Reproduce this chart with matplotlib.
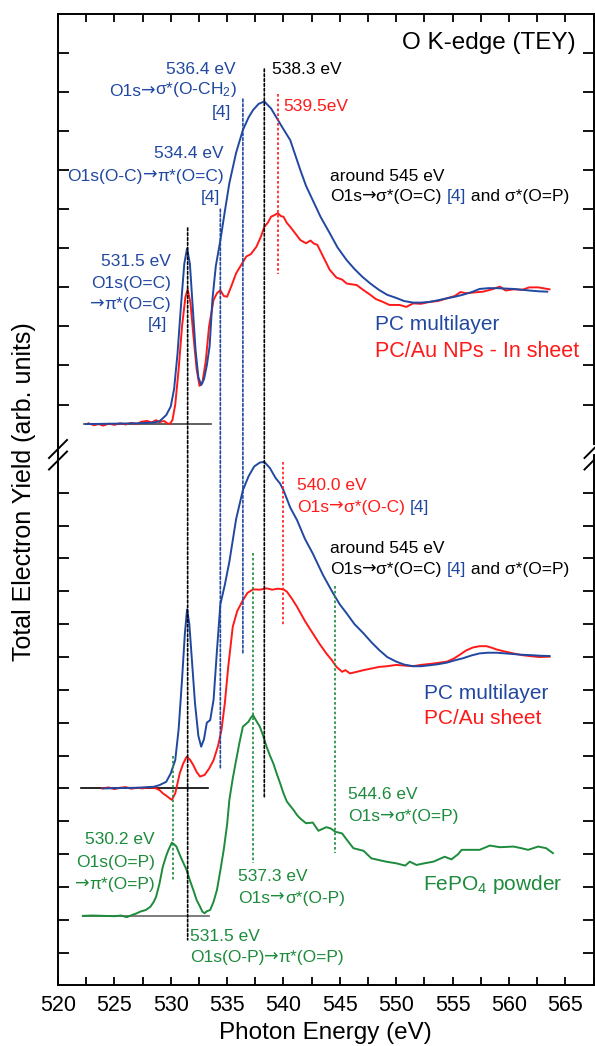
import matplotlib
matplotlib.use('Agg')
import matplotlib.pyplot as plt
from matplotlib.patches import ConnectionPatch
from matplotlib.lines import Line2D
from matplotlib.ticker import MultipleLocator

plt.rcParams['font.family'] = ['Liberation Sans', 'DejaVu Sans']
plt.rcParams['mathtext.fontset'] = 'custom'
plt.rcParams['mathtext.rm'] = 'Liberation Sans'
plt.rcParams['mathtext.it'] = 'Liberation Sans:italic'

BLUE = '#2148a0'
RED = '#ff1a1a'
GREEN = '#1d8b3c'

# ---- upper panel: PC multilayer / PC-Au NPs in sheet ----
top_pc_e = [522.5, 525.0, 527.0, 528.5, 529.0, 529.6, 530.0, 530.3, 530.6, 530.9, 531.2, 531.45,
            531.7, 531.95, 532.2, 532.45, 532.7, 532.95, 533.2, 533.45, 533.7, 534.0, 534.4, 534.8,
            535.2, 535.8, 536.4, 536.9, 537.3, 537.8, 538.3, 538.9, 539.5, 540.0, 540.6, 541.5,
            542.0, 542.6, 543.3, 544.1, 544.8, 545.6, 546.3, 547.0, 547.7, 548.5, 549.2, 550.0,
            550.7, 551.5, 552.2, 553.0, 553.7, 554.5, 555.2, 555.9, 556.7, 557.4, 558.2, 558.9,
            559.7, 560.4, 561.1, 561.8, 562.6, 563.4]
top_pc_y = [0.0, 0.01, 0.02, 0.04, 0.07, 0.23, 0.45, 0.9, 1.8, 3.0, 4.1, 4.5,
            4.1, 3.0, 1.9, 1.2, 1.0, 1.15, 1.5, 2.0, 3.2, 4.05, 4.7, 5.45,
            6.17, 6.95, 7.53, 7.85, 8.04, 8.2, 8.26, 8.08, 7.79, 7.55, 7.27, 6.5,
            6.1, 5.73, 5.3, 4.89, 4.52, 4.2, 3.97, 3.77, 3.6, 3.43, 3.31, 3.23,
            3.15, 3.11, 3.11, 3.13, 3.17, 3.22, 3.26, 3.31, 3.38, 3.46, 3.48, 3.48,
            3.47, 3.46, 3.44, 3.42, 3.40, 3.39]

top_np_e = [522.7, 523.2, 523.6, 524.0, 524.5, 525.0, 525.5, 526.0, 526.5, 527.0, 527.4, 527.9,
            528.3, 528.7, 529.0, 529.4, 529.7, 529.9, 530.15, 530.4, 530.7, 531.0, 531.3, 531.5,
            531.75, 532.0, 532.3, 532.55, 532.8, 533.1, 533.4, 533.8, 534.1, 534.4, 534.7, 535.0,
            535.4, 535.8, 536.2, 536.7, 537.1, 537.6, 538.0, 538.3, 538.6, 538.9, 539.2, 539.5,
            539.8, 540.0, 540.3, 540.6, 541.0, 541.5, 542.0, 542.4, 542.7, 543.0, 543.5, 544.1,
            544.7, 545.2, 545.6, 546.0, 546.5, 547.0, 547.7, 548.2, 548.8, 549.4, 550.3, 550.9,
            551.5, 552.2, 553.0, 553.7, 554.5, 555.2, 555.7, 556.2, 556.9, 557.7, 558.5, 559.2,
            559.7, 560.4, 561.2, 561.8, 562.6, 563.6]
top_np_y = [0.02, -0.03, 0.0, -0.04, 0.01, -0.02, 0.02, -0.01, 0.03, 0.0, 0.06, 0.08,
            0.04, 0.1, 0.05, 0.08, 0.02, 0.0, 0.1, 0.5, 1.4, 2.5, 3.25, 3.45,
            3.1, 2.3, 1.4, 0.98, 1.05, 1.6, 2.5, 3.18, 3.35, 3.43, 3.28, 3.26,
            3.55, 3.86, 4.05, 4.29, 4.35, 4.54, 4.8, 5.05, 5.15, 5.31, 5.35, 5.40,
            5.32, 5.31, 5.15, 5.05, 4.9, 4.71, 4.63, 4.7, 4.62, 4.59, 4.3, 3.95,
            3.75, 3.7, 3.6, 3.58, 3.56, 3.45, 3.31, 3.2, 3.13, 3.05, 3.05, 3.0,
            3.09, 3.08, 3.13, 3.15, 3.22, 3.28, 3.38, 3.35, 3.37, 3.39, 3.45, 3.52,
            3.42, 3.45, 3.44, 3.5, 3.50, 3.45]

# ---- lower panel: PC multilayer / PC-Au sheet / FePO4 ----
bot_pc_e = [524.0, 527.0, 528.5, 529.0, 529.6, 530.0, 530.4, 530.7, 531.0, 531.25, 531.45, 531.65,
            531.9, 532.15, 532.45, 532.7, 532.95, 533.2, 533.5, 533.8, 534.1, 534.4, 534.8, 535.2,
            535.8, 536.4, 536.9, 537.4, 537.9, 538.3, 538.8, 539.3, 539.7, 540.0, 540.6, 541.2,
            541.9, 542.6, 543.5, 544.4, 545.0, 545.6, 546.3, 547.1, 547.8, 548.5, 549.2, 550.0,
            550.7, 551.5, 552.2, 553.0, 553.7, 554.5, 555.2, 555.9, 556.7, 557.4, 558.1, 558.9,
            559.7, 560.4, 561.1, 561.8, 562.7, 563.6]
bot_pc_y = [5.0, 5.02, 5.05, 5.1, 5.2, 5.46, 5.86, 6.8, 8.3, 9.7, 10.45, 10.0,
            8.8, 7.6, 6.6, 6.27, 6.5, 7.0, 7.08, 7.7, 9.2, 10.6, 11.2, 11.9,
            13.2, 14.08, 14.5, 14.8, 14.92, 14.94, 14.75, 14.45, 14.28, 14.08, 13.55, 13.17,
            12.6, 12.15, 11.5, 10.94, 10.6, 10.33, 10.0, 9.72, 9.45, 9.21, 9.0, 8.86,
            8.77, 8.72, 8.72, 8.75, 8.78, 8.83, 8.9, 8.96, 9.05, 9.11, 9.13, 9.13,
            9.11, 9.09, 9.07, 9.06, 9.04, 9.03]

bot_au_e = [523.9, 524.5, 525.0, 525.5, 526.0, 526.5, 527.0, 527.5, 528.0, 528.4, 528.7, 529.0,
            529.3, 529.6, 529.9, 530.1, 530.4, 530.8, 531.1, 531.4, 531.7, 532.0, 532.3, 532.6,
            533.0, 533.4, 533.8, 534.2, 534.5, 534.8, 535.1, 535.5, 535.9, 536.4, 536.8, 537.3,
            537.9, 538.5, 539.0, 539.5, 540.0, 540.3, 540.7, 541.2, 541.9, 542.6, 543.2, 543.8,
            544.3, 544.7, 545.2, 545.5, 545.9, 546.5, 547.1, 547.8, 548.5, 549.2, 550.0, 550.7,
            551.5, 552.2, 553.0, 553.7, 554.5, 555.1, 555.6, 556.2, 556.8, 557.4, 558.0, 558.5,
            558.9, 559.6, 560.4, 561.1, 561.8, 562.7, 563.6]
bot_au_y = [5.0, 5.03, 4.98, 5.02, 5.04, 4.99, 5.02, 5.0, 5.03, 5.02, 5.0, 4.95,
            4.85, 4.78, 4.7, 4.65, 4.85, 5.46, 5.75, 5.96, 5.88, 5.71, 5.5, 5.36,
            5.41, 5.6, 5.86, 6.3, 6.78, 7.6, 8.7, 9.92, 10.4, 10.73, 10.95, 11.06,
            11.05, 11.09, 11.05, 11.08, 11.06, 10.99, 10.8, 10.53, 10.1, 9.72, 9.4, 9.11,
            8.9, 8.70, 8.55, 8.6, 8.50, 8.55, 8.60, 8.65, 8.70, 8.72, 8.76, 8.74,
            8.72, 8.76, 8.79, 8.82, 8.86, 8.95, 9.06, 9.2, 9.29, 9.33, 9.33, 9.28,
            9.23, 9.17, 9.11, 9.06, 9.03, 9.0, 9.01]

fepo4_e = [522.2, 523.0, 524.0, 525.0, 525.6, 526.1, 526.6, 527.0, 527.3, 527.8, 528.2, 528.5,
           528.7, 529.0, 529.3, 529.6, 529.8, 530.1, 530.3, 530.5, 530.9, 531.4, 531.7, 532.0,
           532.3, 532.6, 532.8, 533.0, 533.2, 533.5, 533.8, 534.1, 534.4, 534.7, 535.0, 535.2,
           535.5, 535.8, 536.1, 536.4, 536.9, 537.1, 537.3, 537.6, 537.9, 538.2, 538.5, 538.8,
           539.1, 539.4, 539.7, 540.0, 540.3, 540.9, 541.2, 541.5, 542.0, 542.6, 543.1, 543.8,
           544.2, 544.6, 545.2, 545.7, 546.2, 547.1, 547.8, 549.1, 550.0, 550.8, 551.2, 551.8,
           552.5, 553.3, 554.3, 554.9, 555.5, 555.8, 556.6, 557.4, 558.3, 559.2, 560.4, 561.1,
           561.7, 562.6, 563.3, 563.9]
fepo4_y = [1.12, 1.13, 1.12, 1.11, 1.13, 1.08, 1.15, 1.2, 1.25, 1.3, 1.40, 1.55,
           1.70, 2.1, 2.62, 2.95, 3.13, 3.35, 3.3, 3.23, 2.9, 2.52, 2.2, 1.91,
           1.6, 1.40, 1.25, 1.2, 1.26, 1.30, 1.55, 1.91, 2.5, 3.13, 3.9, 4.65,
           5.3, 5.86, 6.4, 6.88, 7.03, 7.15, 7.23, 7.05, 6.88, 6.6, 6.27, 6.0,
           5.76, 5.45, 5.16, 4.85, 4.6, 4.34, 4.19, 4.08, 3.94, 3.96, 3.71, 3.82,
           3.78, 3.68, 3.63, 3.4, 3.18, 3.10, 2.87, 2.77, 2.72, 2.65, 2.77, 2.67,
           2.72, 2.77, 2.92, 2.84, 3.0, 3.13, 3.13, 3.13, 3.26, 3.21, 3.23, 3.18,
           3.13, 3.23, 3.18, 3.03]

# pre-edge reference lines: (E start, E end, level)
top_base = (522.3, 533.6, 0.0)
pc_base = (522.0, 533.3, 5.0)
fepo4_base = (522.2, 533.4, 1.12)

# dotted markers spanning both panels: (energy, upper y top, lower y bottom, colour)
cross_marks = [(531.5, 5.02, 0.39, 'black'), (538.3, 9.09, 4.71, 'black'),
               (534.4, 5.5, 5.62, BLUE), (536.4, 8.32, 9.12, BLUE)]
top_marks = [(539.5, 8.45, 3.84, RED)]
bot_marks = [(540.0, 14.94, 9.97, RED), (537.3, 12.17, 2.72, GREEN),
             (544.6, 11.17, 3.04, GREEN), (530.2, 5.99, 2.21, GREEN)]

fig = plt.figure(figsize=(5.95, 10.46), dpi=100)
ax1 = fig.add_axes([0.09748, 0.57591, 0.9000, 0.41071])
ax2 = fig.add_axes([0.09748, 0.05784, 0.9000, 0.50717])

ax1.set_xlim(520, 567.5)
ax2.set_xlim(520, 567.5)
ax1.set_ylim(-0.5, 10.5)
ax2.set_ylim(-1.0, 15.15)

lw = 1.4
ax1.plot(top_base[:2], [top_base[2]] * 2, color='#444444', lw=1.2)
ax2.plot(pc_base[:2], [pc_base[2]] * 2, color='black', lw=1.2)
ax2.plot(fepo4_base[:2], [fepo4_base[2]] * 2, color='#666666', lw=1.2)

ax1.plot(top_np_e, top_np_y, color=RED, lw=lw)
ax1.plot(top_pc_e, top_pc_y, color=BLUE, lw=lw)
ax2.plot(bot_au_e, bot_au_y, color=RED, lw=lw)
ax2.plot(bot_pc_e, bot_pc_y, color=BLUE, lw=lw)
ax2.plot(fepo4_e, fepo4_y, color=GREEN, lw=lw)

dot = (0, (1.6, 1.3))
for e, y0, y1, c in top_marks:
    ax1.plot([e, e], [y0, y1], color=c, lw=1.2, ls=dot)
for e, y0, y1, c in bot_marks:
    ax2.plot([e, e], [y0, y1], color=c, lw=1.2, ls=dot)
for e, y0, y1, c in cross_marks:
    con = ConnectionPatch(xyA=(e, y0), coordsA=ax1.transData, xyB=(e, y1), coordsB=ax2.transData,
                          color=c, lw=1.2, ls=dot)
    fig.add_artist(con)

for ax in (ax1, ax2):
    ax.xaxis.set_major_locator(MultipleLocator(5))
    ax.xaxis.set_minor_locator(MultipleLocator(2.5))
    ax.tick_params(axis='x', which='both', direction='in', length=6, width=1.3, labelsize=15.5, pad=7)
    ax.tick_params(axis='y', direction='in', length=8, width=1.3, left=True, right=True, labelleft=False)
    for s in ax.spines.values():
        s.set_linewidth(1.4)

ax1.set_yticks([0.5 + k for k in range(10)])
ax2.set_yticks(list(range(0, 15)))
ax1.spines['bottom'].set_visible(False)
ax1.tick_params(axis='x', which='both', bottom=False, top=True, labelbottom=False)
ax2.spines['top'].set_visible(False)
ax2.tick_params(axis='x', which='both', bottom=True, top=False)
ax2.set_xlabel('Photon Energy (eV)', fontsize=17.5, labelpad=4)
fig.text(24 / 595, 0.530, 'Total Electron Yield (arb. units)', rotation=90,
         ha='center', va='center', fontsize=18)

# axis break marks
fig.add_artist(Line2D([58 / 595] * 2, [1 - 443.6 / 1046, 1 - 455 / 1046], color='black', lw=1.4))
for xs in (58, 593.5):
    for yc in (449.0, 460.5):
        fig.add_artist(Line2D([(xs - 9) / 595, (xs + 9) / 595],
                              [1 - (yc + 9) / 1046, 1 - (yc - 9) / 1046], color='black', lw=1.4))

fs = 12.5


def split_arrows(parts):
    out = []
    for s, c in parts:
        bits = s.split('→')
        for i, b in enumerate(bits):
            if i > 0:
                out.append(('→', c, 'DejaVu Sans'))
            if b:
                out.append((b, c, 'Liberation Sans'))
    return out


def rich(ax, x, y, parts, ha='left', size=fs):
    # one text line built from coloured pieces; arrows drawn in DejaVu Sans
    pcs = split_arrows(parts)
    if ha == 'left':
        s, c, f = pcs[0]
        t = ax.text(x, y, s, color=c, family=f, ha='left', va='center', fontsize=size)
        for s, c, f in pcs[1:]:
            t = ax.annotate(s, xy=(1, 0), xycoords=t, ha='left', va='bottom',
                            color=c, family=f, fontsize=size)
    else:
        s, c, f = pcs[-1]
        t = ax.text(x, y, s, color=c, family=f, ha='right', va='center', fontsize=size)
        for s, c, f in reversed(pcs[:-1]):
            t = ax.annotate(s, xy=(0, 0), xycoords=t, ha='right', va='bottom',
                            color=c, family=f, fontsize=size)
    return t


def put(ax, x, y, s, c, ha='left', size=fs):
    return rich(ax, x, y, [(s, c)], ha=ha, size=size)


# upper panel texts
ax1.text(565.9, 9.76, 'O K-edge (TEY)', ha='right', va='center', fontsize=17.5)
put(ax1, 535.8, 9.09, '536.4 eV', BLUE, 'right')
put(ax1, 535.9, 8.56, r'O1s→σ*(O-CH$_2$)', BLUE, 'right')
put(ax1, 535.4, 7.99, '[4]', BLUE, 'right')
put(ax1, 534.7, 6.93, '534.4 eV', BLUE, 'right')
put(ax1, 534.7, 6.35, 'O1s(O-C)→π*(O=C)', BLUE, 'right')
put(ax1, 534.4, 5.79, '[4]', BLUE, 'right')
put(ax1, 530.0, 4.15, '531.5 eV', BLUE, 'right')
put(ax1, 530.0, 3.61, 'O1s(O=C)', BLUE, 'right')
put(ax1, 530.0, 3.05, '→π*(O=C)', BLUE, 'right')
put(ax1, 529.7, 2.54, '[4]', BLUE, 'right')
put(ax1, 539.0, 9.09, '538.3 eV', 'black')
put(ax1, 540.0, 8.12, '539.5eV', RED)
put(ax1, 544.1, 6.35, 'around 545 eV', 'black')
rich(ax1, 544.1, 5.82, [('O1s→σ*(O=C) ', 'black'), ('[4]', BLUE), (' and σ*(O=P)', 'black')])
put(ax1, 548.1, 2.54, 'PC multilayer', BLUE, size=15)
put(ax1, 548.1, 1.85, 'PC/Au NPs - In sheet', RED, size=15.5)

# lower panel texts
put(ax2, 541.2, 14.23, '540.0 eV', RED)
rich(ax2, 541.2, 13.56, [('O1s→σ*(O-C) ', RED), ('[4]', BLUE)])
put(ax2, 544.1, 12.29, 'around 545 eV', 'black')
rich(ax2, 544.1, 11.65, [('O1s→σ*(O=C) ', 'black'), ('[4]', BLUE), (' and σ*(O=P)', 'black')])
put(ax2, 552.5, 7.90, 'PC multilayer', BLUE, size=15)
put(ax2, 552.5, 7.14, 'PC/Au sheet', RED, size=15)
put(ax2, 545.7, 4.80, '544.6 eV', GREEN)
put(ax2, 545.7, 4.13, 'O1s→σ*(O=P)', GREEN)
put(ax2, 552.4, 2.06, r'FePO$_4$ powder', GREEN, size=15)
put(ax2, 536.0, 2.33, '537.3 eV', GREEN)
put(ax2, 536.0, 1.66, 'O1s→σ*(O-P)', GREEN)
put(ax2, 528.6, 3.43, '530.2 eV', GREEN, 'right')
put(ax2, 528.6, 2.73, 'O1s(O=P)', GREEN, 'right')
put(ax2, 528.6, 2.06, '→π*(O=P)', GREEN, 'right')
put(ax2, 531.75, 0.48, '531.5 eV', GREEN)
put(ax2, 531.7, -0.16, 'O1s(O-P)→π*(O=P)', GREEN)

fig.savefig('out.png', dpi=100)
